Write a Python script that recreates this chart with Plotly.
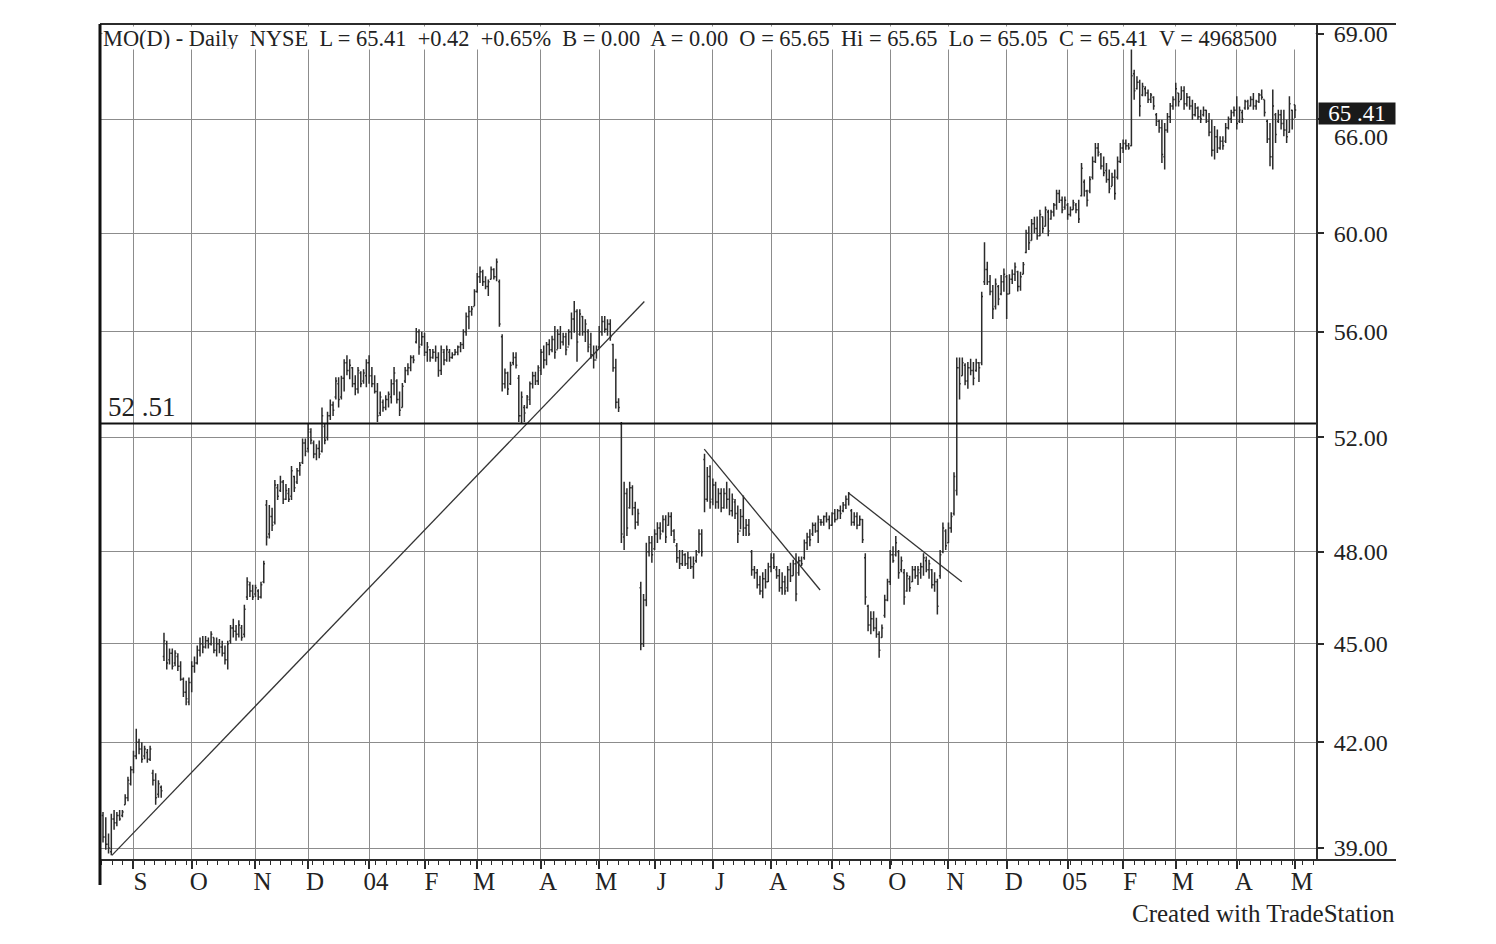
import math
import plotly.graph_objects as go

# ---------------- data ----------------
opens = [
    39.9, 39.3, 39.1, 38.9, 39.8, 39.7, 39.9, 39.9, 40.2, 40.4,
    40.8, 41.2, 41.6, 42.0, 41.8, 41.6, 41.7, 41.5, 41.1, 40.9,
    40.5, 40.7, 44.6, 45.0, 44.5, 44.7, 44.4, 44.6, 44.3, 43.9,
    43.5, 43.2, 43.8, 44.3, 44.4, 44.8, 45.0, 44.9, 45.1, 45.0,
    45.2, 44.8, 45.0, 44.9, 44.7, 44.5, 45.1, 45.5, 45.4, 45.3,
    45.5, 45.3, 46.5, 46.9, 46.7, 46.6, 46.7, 46.5, 47.0, 49.6,
    48.6, 49.2, 49.0, 50.2, 50.1, 50.4, 49.8, 50.0, 49.9, 50.6,
    50.4, 50.8, 51.1, 51.8, 51.6, 52.2, 51.8, 51.4, 51.6, 51.5,
    52.4, 52.0, 52.8, 53.2, 53.5, 54.0, 53.5, 54.2, 54.8, 54.5,
    54.6, 54.0, 53.8, 54.4, 54.1, 54.3, 54.8, 54.3, 54.0, 53.7,
    52.9, 53.3, 53.1, 53.4, 53.5, 54.0, 54.1, 53.4, 53.1, 54.1,
    54.5, 54.6, 55.0, 55.6, 56.0, 55.5, 55.8, 55.2, 55.3, 55.0,
    55.2, 55.0, 54.5, 55.2, 54.9, 55.2, 55.0, 55.1, 55.2, 55.4,
    55.5, 56.0, 56.6, 56.8, 57.0, 57.6, 58.2, 58.4, 58.0, 57.8,
    58.1, 58.5, 58.2, 58.0, 55.8, 54.0, 54.4, 54.0, 54.8, 55.0,
    54.2, 52.8, 53.1, 53.1, 53.4, 54.0, 54.3, 54.1, 54.5, 55.2,
    54.9, 55.5, 55.3, 55.7, 55.3, 55.9, 55.6, 55.8, 55.4, 56.0,
    56.5, 56.8, 55.9, 56.6, 56.0, 56.0, 55.5, 55.1, 54.9, 55.4,
    56.0, 56.4, 56.1, 56.3, 55.5, 54.6, 53.3, 52.5, 48.5, 50.0,
    49.5, 50.2, 49.5, 49.0, 46.8, 45.0, 46.4, 48.0, 48.3, 48.1,
    48.6, 48.8, 48.7, 49.1, 48.9, 49.2, 48.7, 48.2, 47.8, 47.6,
    47.9, 47.6, 47.8, 47.5, 47.7, 48.0, 48.6, 51.2, 49.8, 50.6,
    49.8, 50.3, 49.7, 50.0, 49.5, 50.0, 49.8, 49.4, 49.7, 49.3,
    48.7, 49.2, 48.8, 48.9, 48.0, 47.4, 47.3, 46.9, 46.7, 47.1,
    47.0, 47.5, 47.8, 47.4, 47.2, 46.8, 47.0, 46.8, 47.4, 47.2,
    47.6, 47.3, 47.7, 47.8, 48.3, 48.5, 48.6, 48.9, 48.7, 49.0,
    49.0, 49.2, 49.1, 48.9, 49.3, 49.1, 49.4, 49.4, 49.6, 49.8,
    49.4, 49.0, 49.2, 48.9, 49.1, 47.8, 46.2, 45.6, 45.8, 45.5,
    45.3, 45.2, 45.9, 46.4, 47.0, 47.9, 47.9, 48.0, 47.4, 47.3,
    46.7, 47.1, 47.0, 47.4, 47.2, 47.3, 47.5, 47.7, 47.4, 47.4,
    46.9, 47.0, 47.2, 48.0, 48.7, 48.3, 48.8, 49.3, 50.1, 54.6,
    54.3, 54.7, 54.1, 54.6, 54.5, 54.5, 54.8, 54.8, 58.0, 58.5,
    58.0, 57.6, 57.0, 57.8, 57.5, 58.0, 58.2, 57.5, 58.1, 58.3,
    58.4, 57.8, 58.3, 59.2, 60.0, 59.7, 60.4, 60.2, 59.9, 60.7,
    60.3, 60.9, 60.6, 60.9, 61.2, 61.7, 61.4, 61.1, 61.2, 60.8,
    61.0, 61.2, 61.0, 61.6, 62.2, 61.8, 61.8, 62.4, 63.1, 63.7,
    63.4, 62.9, 62.7, 62.3, 62.0, 62.4, 62.4, 63.1, 63.7, 63.9,
    63.8, 63.8, 67.1, 66.4, 66.7, 66.1, 66.4, 66.2, 65.9, 66.0,
    65.2, 64.9, 64.6, 63.3, 64.5, 65.1, 65.6, 65.9, 66.2, 65.9,
    66.3, 65.7, 66.0, 65.6, 65.2, 65.5, 65.1, 65.2, 65.4, 64.9,
    64.4, 63.6, 64.2, 63.7, 64.0, 64.0, 64.6, 65.0, 65.3, 65.4,
    64.9, 65.3, 65.5, 65.8, 65.6, 65.9, 65.6, 65.8, 66.1, 65.9,
    64.9, 64.1, 63.3, 65.2, 64.9, 65.2, 64.8, 64.5, 64.4, 65.4,
    65.65,
]

highs = [
    40.0, 39.85, 39.4, 39.95, 40.05, 40.0, 40.05, 40.05, 40.5, 41.0,
    41.3, 41.75, 42.4, 42.1, 42.0, 41.9, 41.8, 41.9, 41.2, 41.1,
    40.9, 40.75, 45.35, 45.1, 44.85, 44.85, 44.8, 44.7, 44.45, 43.95,
    43.85, 43.95, 44.45, 44.6, 44.95, 45.2, 45.25, 45.25, 45.2, 45.4,
    45.2, 45.2, 45.15, 45.1, 44.95, 45.1, 45.6, 45.8, 45.6, 45.75,
    45.6, 46.25, 47.15, 47.0, 46.9, 46.9, 46.75, 47.0, 47.7, 49.77,
    49.6, 49.5, 50.47, 50.33, 50.62, 50.47, 50.33, 50.19, 50.97, 50.62,
    50.9, 51.11, 51.96, 51.96, 52.49, 52.34, 51.89, 51.75, 51.89, 53.1,
    52.49, 52.95, 53.4, 53.33, 54.24, 54.24, 54.3, 54.93, 55.08, 54.93,
    54.63, 54.32, 54.63, 54.47, 54.55, 54.93, 55.08, 54.63, 54.32, 54.02,
    53.7, 53.4, 53.56, 53.7, 54.17, 54.63, 54.17, 53.7, 54.02, 54.63,
    54.78, 55.08, 55.08, 56.15, 56.1, 56.0, 55.96, 55.6, 55.33, 55.33,
    55.46, 55.2, 55.46, 55.33, 55.46, 55.33, 55.2, 55.33, 55.46, 55.6,
    56.1, 56.76, 57.02, 57.02, 57.69, 58.35, 58.62, 58.49, 58.22, 58.09,
    58.62, 58.55, 58.95, 58.09, 55.9, 54.58, 54.45, 54.83, 55.2, 55.2,
    54.33, 53.7, 53.2, 53.57, 54.08, 54.45, 54.45, 54.7, 55.33, 55.46,
    55.6, 55.71, 55.84, 56.23, 56.1, 56.23, 55.96, 55.96, 56.1, 56.76,
    57.22, 56.89, 56.89, 56.62, 56.49, 56.1, 55.96, 55.46, 55.46, 56.23,
    56.62, 56.62, 56.49, 56.49, 55.53, 54.95, 53.45, 52.57, 50.41, 50.18,
    50.41, 50.29, 49.71, 49.47, 47.0, 46.6, 48.3, 48.53, 48.53, 48.76,
    49.0, 49.0, 49.24, 49.24, 49.35, 49.35, 48.76, 48.29, 48.06, 48.06,
    47.95, 48.0, 47.84, 47.84, 48.06, 48.76, 48.76, 51.41, 50.94, 51.0,
    50.53, 50.41, 50.18, 50.18, 50.18, 50.41, 50.18, 50.0, 49.81, 49.58,
    49.46, 49.93, 49.11, 49.11, 48.06, 47.52, 47.42, 47.2, 47.31, 47.42,
    47.63, 47.95, 47.95, 47.52, 47.42, 47.31, 47.2, 47.52, 47.63, 47.73,
    47.95, 47.84, 47.84, 48.41, 48.64, 48.76, 48.99, 48.99, 49.23, 49.11,
    49.23, 49.35, 49.23, 49.35, 49.46, 49.46, 49.58, 49.7, 49.93, 50.05,
    49.46, 49.35, 49.35, 49.23, 49.11, 47.95, 46.25, 46.04, 46.04, 45.83,
    45.4, 45.61, 46.57, 47.1, 48.06, 48.18, 48.53, 48.06, 47.84, 47.42,
    47.31, 47.2, 47.52, 47.52, 47.52, 47.63, 47.95, 47.84, 47.73, 47.42,
    47.31, 47.1, 48.06, 48.99, 48.76, 48.99, 49.35, 50.75, 55.0, 55.0,
    55.0, 54.78, 54.82, 54.95, 54.82, 54.95, 54.82, 57.59, 59.62, 58.81,
    58.27, 57.86, 58.13, 57.86, 58.27, 58.54, 58.27, 58.3, 58.5, 58.78,
    58.44, 58.4, 58.8, 60.15, 60.3, 60.6, 60.7, 60.71, 61.0, 60.71,
    61.14, 61.0, 61.0, 61.29, 61.86, 61.86, 61.57, 61.57, 61.29, 61.14,
    61.43, 61.29, 61.43, 63.03, 62.3, 61.86, 62.45, 63.32, 63.92, 63.92,
    63.47, 63.32, 63.03, 62.74, 62.6, 62.74, 63.32, 63.92, 64.07, 64.07,
    63.92, 68.38, 67.29, 66.98, 66.82, 66.67, 66.51, 66.36, 66.2, 66.05,
    65.28, 64.97, 64.97, 64.82, 65.28, 65.74, 66.05, 66.67, 66.2, 66.51,
    66.51, 66.2, 66.05, 65.89, 65.74, 65.58, 65.43, 65.58, 65.43, 65.28,
    64.97, 64.68, 64.53, 64.22, 64.22, 64.82, 65.12, 65.43, 65.58, 66.05,
    65.58, 65.43, 65.89, 65.89, 66.05, 66.2, 65.89, 66.2, 66.36, 65.89,
    64.97, 64.82, 66.36, 65.28, 65.43, 65.43, 65.43, 64.97, 66.05, 65.43,
    65.65,
]

lows = [
    39.15, 38.95, 38.85, 38.8, 39.5, 39.6, 39.75, 39.85, 40.2, 40.3,
    40.75, 41.1, 41.5, 41.65, 41.4, 41.5, 41.4, 41.45, 40.75, 40.2,
    40.4, 40.4, 44.46, 44.2, 44.35, 44.2, 44.3, 44.15, 43.85, 43.35,
    43.1, 43.1, 43.5, 44.1, 44.35, 44.6, 44.7, 44.85, 44.85, 44.95,
    44.7, 44.6, 44.7, 44.6, 44.35, 44.2, 45.0, 45.2, 45.1, 45.2,
    45.1, 45.2, 46.4, 46.5, 46.4, 46.5, 46.4, 46.45, 46.95, 48.21,
    48.45, 48.7, 48.92, 49.77, 50.05, 49.63, 49.77, 49.7, 49.77, 50.05,
    50.33, 50.62, 51.04, 51.32, 51.46, 51.75, 51.25, 51.18, 51.25, 51.46,
    51.75, 51.89, 52.64, 52.79, 53.4, 53.1, 53.4, 53.7, 54.32, 54.17,
    53.86, 53.56, 53.63, 53.86, 54.0, 53.86, 54.0, 53.86, 53.63, 52.57,
    52.79, 52.95, 53.0, 53.1, 53.25, 53.56, 53.25, 52.79, 53.1, 54.02,
    54.32, 54.47, 54.78, 55.54, 55.1, 55.45, 55.06, 54.83, 54.83, 54.95,
    54.83, 54.26, 54.33, 54.7, 54.83, 54.83, 54.95, 55.08, 55.08, 55.2,
    55.33, 55.84, 56.1, 56.63, 57.02, 57.55, 57.95, 57.82, 57.69, 57.42,
    58.09, 58.09, 58.02, 56.2, 53.7, 53.82, 53.57, 53.95, 54.7, 54.58,
    52.57, 52.5, 52.57, 53.07, 53.2, 53.82, 53.95, 53.95, 54.33, 54.58,
    54.7, 55.08, 55.2, 54.95, 55.33, 55.33, 55.46, 55.08, 55.46, 55.71,
    55.96, 54.83, 55.84, 55.84, 55.6, 55.2, 54.95, 54.58, 54.95, 55.33,
    55.84, 55.96, 55.84, 55.65, 54.45, 53.07, 52.94, 48.29, 48.06, 48.53,
    49.47, 49.24, 48.76, 48.88, 44.8, 44.9, 46.2, 47.84, 47.63, 48.06,
    48.29, 48.41, 48.65, 48.29, 48.88, 48.53, 48.29, 47.63, 47.42, 47.52,
    47.52, 47.42, 47.42, 47.1, 47.63, 47.95, 47.84, 49.35, 49.71, 49.47,
    49.59, 49.47, 49.47, 49.35, 49.47, 49.47, 49.24, 49.2, 49.11, 48.29,
    48.76, 48.53, 48.53, 48.53, 47.2, 47.1, 46.78, 46.57, 46.46, 46.78,
    46.99, 47.31, 47.42, 47.1, 46.67, 46.57, 46.57, 46.67, 46.99, 47.2,
    46.36, 47.2, 47.52, 47.73, 48.06, 48.18, 48.53, 48.64, 48.29, 48.88,
    48.88, 48.99, 48.76, 48.88, 48.99, 49.11, 49.11, 49.35, 49.46, 49.58,
    48.88, 48.88, 48.76, 48.88, 48.29, 46.25, 45.4, 45.3, 45.4, 45.19,
    44.56, 45.19, 45.83, 46.36, 46.89, 47.63, 47.84, 47.1, 47.31, 46.25,
    46.67, 46.67, 46.99, 47.1, 46.89, 47.1, 47.2, 47.31, 47.1, 46.78,
    46.67, 45.93, 47.1, 47.95, 48.06, 48.29, 48.64, 49.23, 49.93, 53.4,
    54.3, 53.94, 53.81, 54.32, 53.94, 54.45, 54.06, 54.7, 57.86, 57.86,
    57.45, 56.5, 56.88, 57.05, 57.45, 57.59, 56.5, 57.5, 57.9, 58.03,
    57.6, 57.63, 58.3, 59.17, 59.3, 59.7, 60.0, 59.73, 59.87, 60.01,
    60.29, 59.87, 60.57, 60.71, 61.0, 61.29, 60.85, 61.0, 60.57, 60.71,
    61.0, 60.85, 60.43, 61.57, 61.57, 61.14, 61.71, 62.3, 63.03, 63.32,
    62.74, 62.45, 62.16, 61.71, 62.01, 61.43, 62.3, 63.03, 63.47, 63.62,
    63.62, 63.77, 65.89, 66.36, 65.12, 66.05, 66.05, 65.74, 65.74, 65.43,
    64.68, 64.38, 63.03, 62.74, 64.38, 64.82, 65.43, 65.58, 65.58, 65.89,
    65.43, 65.58, 65.43, 64.97, 65.12, 64.97, 64.82, 65.12, 64.82, 64.22,
    63.32, 63.18, 63.47, 63.62, 63.62, 63.92, 64.53, 64.82, 65.12, 64.53,
    64.82, 64.82, 65.43, 65.43, 65.58, 65.43, 65.43, 65.74, 65.89, 65.12,
    63.92, 62.88, 62.74, 63.92, 64.82, 64.53, 64.22, 63.92, 64.38, 64.53,
    65.05,
]

closes = [
    39.3, 39.1, 39.0, 39.8, 39.7, 39.9, 39.8, 40.0, 40.4, 40.9,
    41.2, 41.6, 42.0, 41.8, 41.5, 41.8, 41.5, 41.8, 40.9, 40.4,
    40.8, 40.6, 45.1, 44.4, 44.7, 44.3, 44.7, 44.3, 43.9, 43.5,
    43.3, 43.8, 44.3, 44.4, 44.8, 45.0, 44.9, 45.1, 45.0, 45.3,
    44.8, 45.0, 44.9, 44.7, 44.5, 45.0, 45.5, 45.4, 45.3, 45.6,
    45.2, 46.1, 47.0, 46.7, 46.5, 46.8, 46.5, 46.9, 47.6, 48.5,
    49.2, 48.9, 50.3, 49.9, 50.4, 49.8, 50.1, 49.8, 50.8, 50.2,
    50.8, 51.0, 51.8, 51.5, 52.3, 51.9, 51.4, 51.6, 51.4, 52.8,
    51.9, 52.8, 53.2, 53.0, 54.1, 53.4, 54.2, 54.8, 54.5, 54.7,
    54.0, 53.8, 54.5, 54.0, 54.4, 54.8, 54.3, 54.0, 53.7, 52.8,
    53.5, 53.1, 53.4, 53.6, 54.0, 54.4, 53.4, 53.0, 53.9, 54.5,
    54.6, 55.0, 54.9, 56.0, 55.4, 55.8, 55.2, 55.4, 55.0, 55.2,
    55.0, 54.5, 55.3, 54.9, 55.3, 55.0, 55.1, 55.2, 55.4, 55.5,
    56.0, 56.6, 56.8, 56.9, 57.6, 58.2, 58.4, 58.0, 57.8, 58.0,
    58.5, 58.2, 58.8, 56.3, 54.0, 54.4, 53.8, 54.7, 55.0, 54.7,
    52.8, 53.5, 52.9, 53.5, 54.0, 54.3, 54.1, 54.6, 55.2, 54.9,
    55.5, 55.3, 55.7, 55.2, 55.9, 55.6, 55.8, 55.3, 56.0, 56.5,
    56.8, 55.6, 56.7, 56.0, 56.3, 55.4, 55.1, 54.9, 55.3, 56.0,
    56.4, 56.1, 56.3, 55.8, 54.6, 53.3, 53.1, 48.6, 50.0, 48.8,
    50.2, 49.5, 49.0, 49.3, 45.0, 46.4, 48.0, 48.3, 47.9, 48.6,
    48.8, 48.6, 49.1, 48.5, 49.2, 48.7, 48.4, 47.8, 47.6, 47.9,
    47.6, 47.8, 47.5, 47.6, 47.9, 48.6, 48.0, 49.8, 50.6, 49.7,
    50.3, 49.7, 50.0, 49.5, 50.0, 49.8, 49.4, 49.8, 49.3, 48.6,
    49.2, 48.8, 48.9, 48.6, 47.4, 47.3, 46.9, 46.7, 47.1, 47.0,
    47.5, 47.8, 47.5, 47.2, 46.8, 47.0, 46.7, 47.4, 47.2, 47.6,
    46.6, 47.7, 47.6, 48.3, 48.5, 48.4, 48.9, 48.7, 49.1, 49.0,
    49.2, 49.1, 48.9, 49.3, 49.1, 49.4, 49.3, 49.6, 49.8, 50.0,
    49.0, 49.2, 48.9, 49.1, 48.4, 46.5, 45.6, 45.8, 45.5, 45.3,
    44.8, 45.5, 46.4, 47.0, 47.9, 47.7, 48.3, 47.3, 47.7, 46.5,
    47.2, 46.8, 47.4, 47.2, 47.4, 47.5, 47.8, 47.4, 47.6, 46.9,
    47.0, 46.2, 47.9, 48.8, 48.2, 48.8, 49.2, 50.6, 54.6, 54.0,
    54.8, 54.1, 54.6, 54.5, 54.2, 54.8, 54.6, 57.4, 58.5, 58.0,
    57.6, 56.9, 57.9, 57.3, 58.0, 58.3, 57.5, 58.1, 58.3, 58.6,
    57.8, 58.2, 58.7, 60.0, 59.6, 60.4, 60.2, 59.9, 60.8, 60.2,
    61.0, 60.1, 60.9, 61.2, 61.7, 61.4, 61.0, 61.4, 60.8, 61.0,
    61.3, 61.0, 60.6, 62.8, 61.8, 61.4, 62.3, 63.1, 63.7, 63.5,
    62.9, 62.6, 62.3, 61.9, 62.4, 61.7, 63.1, 63.7, 63.9, 63.8,
    63.7, 67.0, 66.3, 66.7, 65.6, 66.5, 66.2, 65.9, 66.1, 65.6,
    64.9, 64.6, 63.4, 64.5, 65.1, 65.6, 65.9, 66.4, 65.8, 66.3,
    65.7, 66.0, 65.6, 65.2, 65.5, 65.1, 65.0, 65.4, 64.9, 64.4,
    63.6, 64.2, 63.7, 64.0, 63.8, 64.6, 65.0, 65.3, 65.4, 64.8,
    65.4, 65.0, 65.8, 65.5, 65.9, 65.6, 65.8, 66.1, 66.0, 65.3,
    64.1, 63.3, 65.6, 64.3, 65.2, 64.8, 64.5, 64.2, 65.7, 64.99,
    65.41,
]

bar_index = list(range(len(closes)))   # trading-day index, Aug 15 2003 = 0

# first trading day of each month (trading-day index) and its label
month_start_idx = [11, 32, 55, 74, 96, 116, 135, 158, 179, 199, 220,
                   241, 263, 284, 305, 326, 348, 368, 387, 409, 430]
month_labels = ["S", "O", "N", "D", "04", "F", "M", "A", "M", "J", "J",
                "A", "S", "O", "N", "D", "05", "F", "M", "A", "M"]

price_ticks = [39, 42, 45, 48, 52, 56, 60, 65.0, 69]
price_tick_text = ["39.00", "42.00", "45.00", "48.00", "52.00", "56.00",
                   "60.00", "", "69.00"]

support_level = 52.51
last_price = 65.41

# trend lines: (index, price) endpoints
trend1_x, trend1_y = [3.2, 195.3], [38.8, 57.2]
trend2_x, trend2_y = [216.9, 258.7], [51.58, 46.73]
trend3_x, trend3_y = [269.2, 309.8], [50.0, 47.0]

header = ("MO(D) - Daily  NYSE  L = 65.41  +0.42  +0.65%  B = 0.00  A = 0.00  "
          "O = 65.65  Hi = 65.65  Lo = 65.05  C = 65.41  V = 4968500")

# ---------------- figure ----------------
INK = "#2b2b2b"
GRID = "#8c8c8c"
FONT = "Liberation Serif"

fig = go.Figure()
fig.add_trace(go.Ohlc(
    x=bar_index, open=opens, high=highs, low=lows, close=closes,
    increasing=dict(line=dict(color=INK, width=1.5)),
    decreasing=dict(line=dict(color=INK, width=1.5)),
    tickwidth=0.45, hoverinfo="skip", showlegend=False,
))
for tx, ty in [(trend1_x, trend1_y), (trend2_x, trend2_y), (trend3_x, trend3_y)]:
    fig.add_trace(go.Scatter(x=tx, y=ty, mode="lines",
                             line=dict(color="#333333", width=1.3),
                             hoverinfo="skip", showlegend=False))

W, H = 1496, 944
L, R, T, B = 100, 180, 24, 84
plot_w = W - L - R

fig.update_layout(
    width=W, height=H,
    margin=dict(l=L, r=R, t=T, b=B, pad=0),
    paper_bgcolor="white", plot_bgcolor="white",
    font=dict(family=FONT, size=24, color="#222222"),
    showlegend=False,
    xaxis=dict(
        range=[-1.082, 437.59], rangeslider=dict(visible=False),
        tickmode="array", tickvals=month_start_idx, ticktext=month_labels,
        showgrid=True, gridcolor=GRID, gridwidth=1.3,
        ticks="outside", ticklen=8, tickwidth=1.5, tickcolor=INK,
        tickfont=dict(family=FONT, size=25, color="#222222"),
        ticklabelshift=7, ticklabelstandoff=-9,
        zeroline=False, showline=False,
        minor=dict(dtick=3.8, tick0=11, ticks="outside", ticklen=4,
                   tickcolor=INK, tickwidth=1, showgrid=False),
    ),
    yaxis=dict(
        type="log", side="right",
        range=[math.log10(38.674), math.log10(69.477)],
        tickmode="array", tickvals=price_ticks, ticktext=price_tick_text,
        showgrid=True, gridcolor=GRID, gridwidth=1.3,
        ticks="outside", ticklen=6, tickwidth=1.5, tickcolor=INK,
        tickfont=dict(family=FONT, size=24, color="#222222"),
        ticklabelstandoff=5,
        showline=True, linecolor=INK, linewidth=2,
        zeroline=False,
    ),
)

ext = (1396 - L) / plot_w
fig.add_shape(type="line", xref="paper", yref="paper", x0=0, x1=ext, y0=1, y1=1,
              line=dict(color=INK, width=2))
fig.add_shape(type="line", xref="paper", yref="paper", x0=0, x1=ext, y0=0, y1=0,
              line=dict(color=INK, width=2))
fig.add_shape(type="line", xref="paper", yref="paper", x0=0, x1=0, y0=-25 / 836, y1=1,
              line=dict(color="#111111", width=3))
fig.add_shape(type="line", xref="paper", yref="y", x0=0, x1=1,
              y0=support_level, y1=support_level, line=dict(color="#111111", width=2))

# header band
fig.add_annotation(text=header, xref="paper", yref="paper", x=0, y=1,
                   xanchor="left", yanchor="top", xshift=2, yshift=-2,
                   width=plot_w - 4, height=22, align="left",
                   bgcolor="white", borderpad=0, showarrow=False,
                   font=dict(family=FONT, size=22.4, color="#222222"))
# support label
fig.add_annotation(text="52 .51", xref="paper", yref="y", x=0, y=math.log10(support_level),
                   xanchor="left", yanchor="bottom", xshift=6, yshift=0,
                   showarrow=False, font=dict(family=FONT, size=27, color="#222222"))
# last price box
fig.add_annotation(text="65 .41", xref="paper", yref="y", x=1, y=math.log10(last_price),
                   xanchor="left", yanchor="middle", xshift=2, yshift=-3,
                   width=76, height=21, bgcolor="#1a1a1a", borderpad=0,
                   showarrow=False, font=dict(family=FONT, size=23, color="white"))
# displaced 66.00 label
fig.add_annotation(text="66.00", xref="paper", yref="y", x=1, y=math.log10(64.21),
                   xanchor="left", yanchor="middle", xshift=16,
                   showarrow=False, font=dict(family=FONT, size=24, color="#222222"))
# footer
fig.add_annotation(text="Created with TradeStation", xref="paper", yref="paper",
                   x=(1397 - L) / plot_w, y=(860 - 913) / 836,
                   xanchor="right", yanchor="middle", showarrow=False,
                   font=dict(family=FONT, size=25, color="#222222"))

fig.write_html("out.html")
